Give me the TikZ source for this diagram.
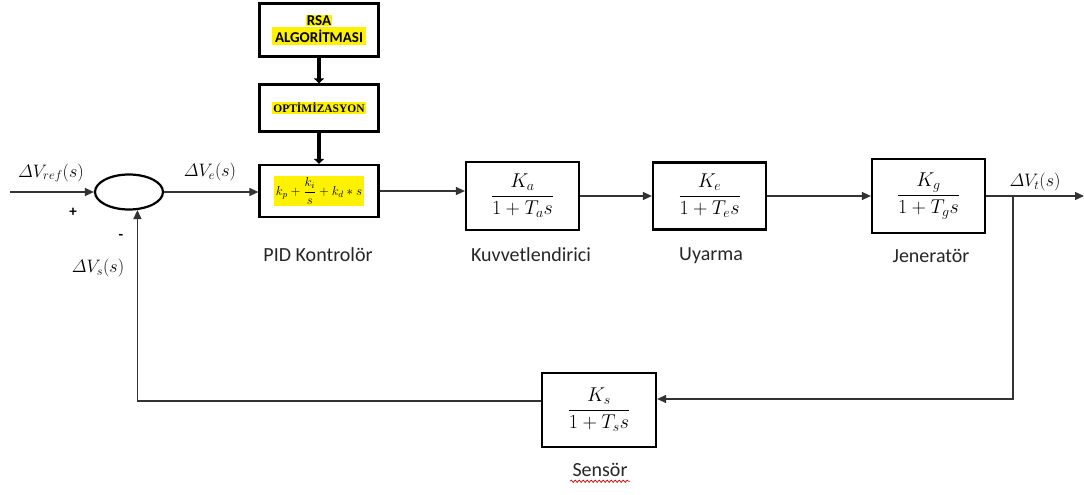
\RequirePackage{fix-cm}
\documentclass[tikz,border=0pt]{standalone}
\usepackage{amsmath}
\usepackage{fontspec}
\setmainfont{Carlito}
\newfontfamily\serifbold{Liberation Serif}
\usetikzlibrary{shapes.geometric,arrows.meta,decorations.pathmorphing}

\tikzset{
  blockbox/.style={draw=black, line width=2.2pt, rectangle, inner sep=0pt},
  sumnode/.style={draw=black, line width=2.2pt, ellipse, inner sep=0pt,
    minimum width=68pt, minimum height=35pt},
  sig/.style={draw=black!80, line width=1.3pt, -{Triangle[length=9pt,width=8pt]}},
  thickarrow/.style={draw=black, line width=4pt, -{Triangle[length=5pt,width=10pt]}},
  caption/.style={font=\fontsize{20}{24}\selectfont, text=black!85},
  siglabel/.style={font=\fontsize{18}{22}\selectfont},
  tf/.style={font=\fontsize{20}{24}\selectfont},
  squiggle/.style={draw=red!85!black, line width=0.7pt,
    decorate, decoration={snake, amplitude=1.1pt, segment length=4pt}}
}

\begin{document}
\begin{tikzpicture}[x=1pt, y=-1pt]
  \useasboundingbox (0,0) rectangle (1084,495);

  % optimisation chain on top of the controller
  \node[blockbox, minimum width=119pt, minimum height=53pt, align=center,
        font=\bfseries\fontsize{15}{18}\selectfont] (rsa) at (319,30)
    {\setlength{\fboxsep}{0.8pt}\colorbox{yellow}{RSA}\\[-1pt]\colorbox{yellow}{ALGORİTMASI}};
  \node[blockbox, minimum width=119pt, minimum height=47pt,
        font=\serifbold\bfseries\fontsize{11.5}{14}\selectfont] (opt) at (319,108)
    {\setlength{\fboxsep}{1.5pt}\colorbox{yellow}{OPTİMİZASYON}};

  % controller
  \node[blockbox, minimum width=119pt, minimum height=52pt,
        font=\fontsize{13}{15}\selectfont] (pid) at (319,191)
    {\setlength{\fboxsep}{2pt}\colorbox{yellow}{$k_p+\dfrac{k_i}{s}+k_d\ast s$}};

  % summing junction
  \node[sumnode] (sum) at (129,192) {};

  % forward path blocks
  \node[blockbox, tf, minimum width=113pt, minimum height=68pt] (amp) at (522.5,196)
    {$\dfrac{K_a}{1+T_a s}$};
  \node[blockbox, tf, minimum width=113pt, minimum height=67pt] (exc) at (709.5,196)
    {$\dfrac{K_e}{1+T_e s}$};
  \node[blockbox, tf, minimum width=113pt, minimum height=74pt] (gen) at (928.5,196)
    {$\dfrac{K_g}{1+T_g s}$};

  % feedback block
  \node[blockbox, tf, minimum width=114pt, minimum height=74pt] (sen) at (599,410)
    {$\dfrac{K_s}{1+T_s s}$};

  % block captions
  \node[caption] (cpid) at (318,255) {PID Kontrolör};
  \node[caption] (camp) at (531,255) {Kuvvetlendirici};
  \node[caption] (cexc) at (711,256) {Uyarma};
  \node[caption] (cgen) at (931,256) {Jeneratör};
  \node[caption] (csen) at (600,470) {Sensör};
  \draw[squiggle] ([xshift=1pt,yshift=-1pt]csen.south west) -- ([xshift=-1pt,yshift=-1pt]csen.south east);

  % signal labels
  \node[siglabel] (lref) at (51,173) {$\varDelta V_{ref}(s)$};
  \node[siglabel] (le) at (210,172) {$\varDelta V_e(s)$};
  \node[siglabel] (lt) at (1035,182) {$\varDelta V_t(s)$};
  \node[siglabel] (ls) at (98,268) {$\varDelta V_s(s)$};
  \node[font=\bfseries\fontsize{15}{17}\selectfont] (plus) at (73,212) {+};
  \node[font=\bfseries\fontsize{15}{17}\selectfont] (minus) at (121,237) {-};

  % free ends and branch point
  \coordinate (in) at (10,192);
  \coordinate (out) at (1084,196);
  \coordinate (br) at (1013,196);

  % thick optimisation arrows
  \draw[thickarrow] (rsa.south) -- (opt.north);
  \draw[thickarrow] (opt.south) -- (pid.north);

  % forward path
  \draw[sig] (in) -- (sum.west);
  \draw[sig] (sum.east) -- (sum.east -| pid.west);
  \draw[sig] (pid.east) -- (pid.east -| amp.west);
  \draw[sig] (amp.east) -- (exc.west);
  \draw[sig] (exc.east) -- (gen.west);
  \draw[sig] (gen.east) -- (out);

  % feedback path
  \draw[sig] (br) |- ([yshift=11pt]sen.east);
  \draw[sig] ([yshift=9pt]sen.west) -| (sum.-65);
\end{tikzpicture}
\end{document}
